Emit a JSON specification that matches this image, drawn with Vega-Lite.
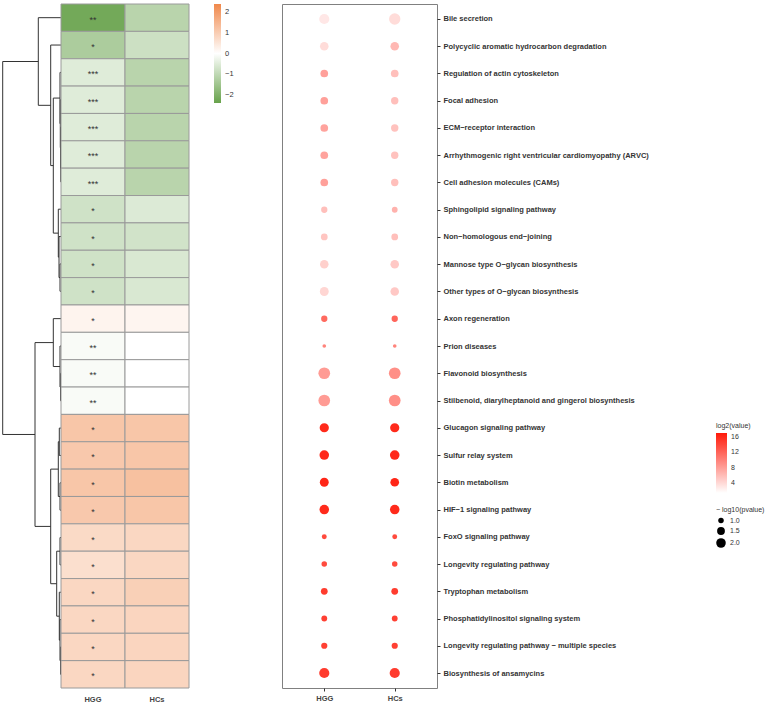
{
  "$schema": "https://vega.github.io/schema/vega-lite/v6.json",
  "padding": {"left": 0, "top": 3, "right": 0, "bottom": 0},
  "background": "white",
  "config": {"view": {"stroke": null}, "font": "Liberation Sans"},
  "bounds": "flush",
  "spacing": 0,
  "resolve": {"scale": {"color": "independent", "size": "independent", "x": "independent", "y": "independent"}, "legend": {"color": "independent", "size": "independent"}},
  "datasets": {
    "dendro": [
      {"h1": 58.3, "h2": 58.3, "r1": 2.602, "r2": 16.234},
      {"h1": 58.3, "h2": 22.7, "r1": 2.602, "r2": 2.602},
      {"h1": 58.3, "h2": 26, "r1": 16.234, "r2": 16.234},
      {"h1": 22.7, "h2": 22.7, "r1": 1, "r2": 4.203},
      {"h1": 22.7, "h2": 0, "r1": 1, "r2": 1},
      {"h1": 22.7, "h2": 10.3, "r1": 4.203, "r2": 4.203},
      {"h1": 10.3, "h2": 10.3, "r1": 2, "r2": 6.406},
      {"h1": 10.3, "h2": 0, "r1": 2, "r2": 2},
      {"h1": 10.3, "h2": 7.7, "r1": 6.406, "r2": 6.406},
      {"h1": 7.7, "h2": 7.7, "r1": 3.938, "r2": 8.875},
      {"h1": 7.7, "h2": 1.0, "r1": 3.938, "r2": 3.938},
      {"h1": 7.7, "h2": 2.7, "r1": 8.875, "r2": 8.875},
      {"h1": 1, "h2": 1, "r1": 3, "r2": 4.875},
      {"h1": 1, "h2": 0, "r1": 3, "r2": 3},
      {"h1": 1, "h2": 0.7, "r1": 4.875, "r2": 4.875},
      {"h1": 0.7, "h2": 0.7, "r1": 4, "r2": 5.75},
      {"h1": 0.7, "h2": 0, "r1": 4, "r2": 4},
      {"h1": 0.7, "h2": 0.5, "r1": 5.75, "r2": 5.75},
      {"h1": 0.5, "h2": 0.5, "r1": 5, "r2": 6.5},
      {"h1": 0.5, "h2": 0, "r1": 5, "r2": 5},
      {"h1": 0.5, "h2": 0.3, "r1": 6.5, "r2": 6.5},
      {"h1": 0.3, "h2": 0.3, "r1": 6, "r2": 7},
      {"h1": 0.3, "h2": 0, "r1": 6, "r2": 6},
      {"h1": 0.3, "h2": 0, "r1": 7, "r2": 7},
      {"h1": 2.7, "h2": 2.7, "r1": 8, "r2": 9.75},
      {"h1": 2.7, "h2": 0, "r1": 8, "r2": 8},
      {"h1": 2.7, "h2": 2, "r1": 9.75, "r2": 9.75},
      {"h1": 2, "h2": 2, "r1": 9, "r2": 10.5},
      {"h1": 2, "h2": 0, "r1": 9, "r2": 9},
      {"h1": 2, "h2": 1, "r1": 10.5, "r2": 10.5},
      {"h1": 1, "h2": 1, "r1": 10, "r2": 11},
      {"h1": 1, "h2": 0, "r1": 10, "r2": 10},
      {"h1": 1, "h2": 0, "r1": 11, "r2": 11},
      {"h1": 26, "h2": 26, "r1": 12.875, "r2": 19.594},
      {"h1": 26, "h2": 7.7, "r1": 12.875, "r2": 12.875},
      {"h1": 26, "h2": 10.3, "r1": 19.594, "r2": 19.594},
      {"h1": 7.7, "h2": 7.7, "r1": 12, "r2": 13.75},
      {"h1": 7.7, "h2": 0, "r1": 12, "r2": 12},
      {"h1": 7.7, "h2": 1, "r1": 13.75, "r2": 13.75},
      {"h1": 1, "h2": 1, "r1": 13, "r2": 14.5},
      {"h1": 1, "h2": 0, "r1": 13, "r2": 13},
      {"h1": 1, "h2": 0.5, "r1": 14.5, "r2": 14.5},
      {"h1": 0.5, "h2": 0.5, "r1": 14, "r2": 15},
      {"h1": 0.5, "h2": 0, "r1": 14, "r2": 14},
      {"h1": 0.5, "h2": 0, "r1": 15, "r2": 15},
      {"h1": 10.3, "h2": 10.3, "r1": 17.5, "r2": 21.688},
      {"h1": 10.3, "h2": 2.7, "r1": 17.5, "r2": 17.5},
      {"h1": 10.3, "h2": 4.3, "r1": 21.688, "r2": 21.688},
      {"h1": 2.7, "h2": 2.7, "r1": 16.5, "r2": 18.5},
      {"h1": 2.7, "h2": 1.7, "r1": 16.5, "r2": 16.5},
      {"h1": 2.7, "h2": 1, "r1": 18.5, "r2": 18.5},
      {"h1": 1.7, "h2": 1.7, "r1": 16, "r2": 17},
      {"h1": 1.7, "h2": 0, "r1": 16, "r2": 16},
      {"h1": 1.7, "h2": 0, "r1": 17, "r2": 17},
      {"h1": 1, "h2": 1, "r1": 18, "r2": 19},
      {"h1": 1, "h2": 0, "r1": 18, "r2": 18},
      {"h1": 1, "h2": 0, "r1": 19, "r2": 19},
      {"h1": 4.3, "h2": 4.3, "r1": 20.5, "r2": 22.875},
      {"h1": 4.3, "h2": 1, "r1": 20.5, "r2": 20.5},
      {"h1": 4.3, "h2": 1.7, "r1": 22.875, "r2": 22.875},
      {"h1": 1, "h2": 1, "r1": 20, "r2": 21},
      {"h1": 1, "h2": 0, "r1": 20, "r2": 20},
      {"h1": 1, "h2": 0, "r1": 21, "r2": 21},
      {"h1": 1.7, "h2": 1.7, "r1": 22, "r2": 23.75},
      {"h1": 1.7, "h2": 0, "r1": 22, "r2": 22},
      {"h1": 1.7, "h2": 1, "r1": 23.75, "r2": 23.75},
      {"h1": 1, "h2": 1, "r1": 23, "r2": 24.5},
      {"h1": 1, "h2": 0, "r1": 23, "r2": 23},
      {"h1": 1, "h2": 0.5, "r1": 24.5, "r2": 24.5},
      {"h1": 0.5, "h2": 0.5, "r1": 24, "r2": 25},
      {"h1": 0.5, "h2": 0, "r1": 24, "r2": 24},
      {"h1": 0.5, "h2": 0, "r1": 25, "r2": 25}
    ],
    "heat": [
      {"row": 1, "group": "HGG", "value": -2.2, "sig": "**"}, {"row": 1, "group": "HCs", "value": -1.1, "sig": ""},
      {"row": 2, "group": "HGG", "value": -1.3, "sig": "*"}, {"row": 2, "group": "HCs", "value": -0.8, "sig": ""},
      {"row": 3, "group": "HGG", "value": -0.5, "sig": "***"}, {"row": 3, "group": "HCs", "value": -1.1, "sig": ""},
      {"row": 4, "group": "HGG", "value": -0.5, "sig": "***"}, {"row": 4, "group": "HCs", "value": -1.1, "sig": ""},
      {"row": 5, "group": "HGG", "value": -0.5, "sig": "***"}, {"row": 5, "group": "HCs", "value": -1.1, "sig": ""},
      {"row": 6, "group": "HGG", "value": -0.5, "sig": "***"}, {"row": 6, "group": "HCs", "value": -1.1, "sig": ""},
      {"row": 7, "group": "HGG", "value": -0.5, "sig": "***"}, {"row": 7, "group": "HCs", "value": -1.1, "sig": ""},
      {"row": 8, "group": "HGG", "value": -0.75, "sig": "*"}, {"row": 8, "group": "HCs", "value": -0.55, "sig": ""},
      {"row": 9, "group": "HGG", "value": -0.75, "sig": "*"}, {"row": 9, "group": "HCs", "value": -0.72, "sig": ""},
      {"row": 10, "group": "HGG", "value": -0.75, "sig": "*"}, {"row": 10, "group": "HCs", "value": -0.6, "sig": ""},
      {"row": 11, "group": "HGG", "value": -0.75, "sig": "*"}, {"row": 11, "group": "HCs", "value": -0.6, "sig": ""},
      {"row": 12, "group": "HGG", "value": 0.22, "sig": "*"}, {"row": 12, "group": "HCs", "value": 0.2, "sig": ""},
      {"row": 13, "group": "HGG", "value": -0.1, "sig": "**"}, {"row": 13, "group": "HCs", "value": 0.0, "sig": ""},
      {"row": 14, "group": "HGG", "value": -0.1, "sig": "**"}, {"row": 14, "group": "HCs", "value": 0.0, "sig": ""},
      {"row": 15, "group": "HGG", "value": -0.1, "sig": "**"}, {"row": 15, "group": "HCs", "value": 0.0, "sig": ""},
      {"row": 16, "group": "HGG", "value": 1.15, "sig": "*"}, {"row": 16, "group": "HCs", "value": 1.15, "sig": ""},
      {"row": 17, "group": "HGG", "value": 1.1, "sig": "*"}, {"row": 17, "group": "HCs", "value": 1.15, "sig": ""},
      {"row": 18, "group": "HGG", "value": 1.15, "sig": "*"}, {"row": 18, "group": "HCs", "value": 1.25, "sig": ""},
      {"row": 19, "group": "HGG", "value": 1.1, "sig": "*"}, {"row": 19, "group": "HCs", "value": 1.15, "sig": ""},
      {"row": 20, "group": "HGG", "value": 0.75, "sig": "*"}, {"row": 20, "group": "HCs", "value": 0.8, "sig": ""},
      {"row": 21, "group": "HGG", "value": 0.65, "sig": "*"}, {"row": 21, "group": "HCs", "value": 0.8, "sig": ""},
      {"row": 22, "group": "HGG", "value": 0.8, "sig": "*"}, {"row": 22, "group": "HCs", "value": 0.95, "sig": ""},
      {"row": 23, "group": "HGG", "value": 0.8, "sig": "*"}, {"row": 23, "group": "HCs", "value": 0.85, "sig": ""},
      {"row": 24, "group": "HGG", "value": 0.8, "sig": "*"}, {"row": 24, "group": "HCs", "value": 0.85, "sig": ""},
      {"row": 25, "group": "HGG", "value": 0.8, "sig": "*"}, {"row": 25, "group": "HCs", "value": 0.85, "sig": ""}
    ],
    "dots": [
      {"pathway": "Bile secretion", "group": "HGG", "log2value": 3.1, "nlog10p": 2.2},
      {"pathway": "Bile secretion", "group": "HCs", "log2value": 3.9, "nlog10p": 2.62},
      {"pathway": "Polycyclic aromatic hydrocarbon degradation", "group": "HGG", "log2value": 3.9, "nlog10p": 1.71},
      {"pathway": "Polycyclic aromatic hydrocarbon degradation", "group": "HCs", "log2value": 6.3, "nlog10p": 1.71},
      {"pathway": "Regulation of actin cytoskeleton", "group": "HGG", "log2value": 7.9, "nlog10p": 1.47},
      {"pathway": "Regulation of actin cytoskeleton", "group": "HCs", "log2value": 5.8, "nlog10p": 1.47},
      {"pathway": "Focal adhesion", "group": "HGG", "log2value": 7.9, "nlog10p": 1.47},
      {"pathway": "Focal adhesion", "group": "HCs", "log2value": 5.8, "nlog10p": 1.4},
      {"pathway": "ECM−receptor interaction", "group": "HGG", "log2value": 7.7, "nlog10p": 1.47},
      {"pathway": "ECM−receptor interaction", "group": "HCs", "log2value": 5.6, "nlog10p": 1.4},
      {"pathway": "Arrhythmogenic right ventricular cardiomyopathy (ARVC)", "group": "HGG", "log2value": 7.7, "nlog10p": 1.47},
      {"pathway": "Arrhythmogenic right ventricular cardiomyopathy (ARVC)", "group": "HCs", "log2value": 5.6, "nlog10p": 1.4},
      {"pathway": "Cell adhesion molecules (CAMs)", "group": "HGG", "log2value": 7.9, "nlog10p": 1.47},
      {"pathway": "Cell adhesion molecules (CAMs)", "group": "HCs", "log2value": 5.8, "nlog10p": 1.4},
      {"pathway": "Sphingolipid signaling pathway", "group": "HGG", "log2value": 5.8, "nlog10p": 1.15},
      {"pathway": "Sphingolipid signaling pathway", "group": "HCs", "log2value": 6.7, "nlog10p": 1.05},
      {"pathway": "Non−homologous end−joining", "group": "HGG", "log2value": 5.4, "nlog10p": 1.25},
      {"pathway": "Non−homologous end−joining", "group": "HCs", "log2value": 5.8, "nlog10p": 1.25},
      {"pathway": "Mannose type O−glycan biosynthesis", "group": "HGG", "log2value": 4.7, "nlog10p": 1.7},
      {"pathway": "Mannose type O−glycan biosynthesis", "group": "HCs", "log2value": 5.2, "nlog10p": 1.7},
      {"pathway": "Other types of O−glycan biosynthesis", "group": "HGG", "log2value": 4.3, "nlog10p": 1.8},
      {"pathway": "Other types of O−glycan biosynthesis", "group": "HCs", "log2value": 5.2, "nlog10p": 1.7},
      {"pathway": "Axon regeneration", "group": "HGG", "log2value": 11.6, "nlog10p": 1.15},
      {"pathway": "Axon regeneration", "group": "HCs", "log2value": 11.9, "nlog10p": 1.15},
      {"pathway": "Prion diseases", "group": "HGG", "log2value": 9.8, "nlog10p": 0.72},
      {"pathway": "Prion diseases", "group": "HCs", "log2value": 9.8, "nlog10p": 0.72},
      {"pathway": "Flavonoid biosynthesis", "group": "HGG", "log2value": 8.3, "nlog10p": 2.75},
      {"pathway": "Flavonoid biosynthesis", "group": "HCs", "log2value": 9.1, "nlog10p": 2.75},
      {"pathway": "Stilbenoid, diarylheptanoid and gingerol biosynthesis", "group": "HGG", "log2value": 8.3, "nlog10p": 2.75},
      {"pathway": "Stilbenoid, diarylheptanoid and gingerol biosynthesis", "group": "HCs", "log2value": 9.1, "nlog10p": 2.75},
      {"pathway": "Glucagon signaling pathway", "group": "HGG", "log2value": 15.9, "nlog10p": 1.9},
      {"pathway": "Glucagon signaling pathway", "group": "HCs", "log2value": 15.9, "nlog10p": 1.9},
      {"pathway": "Sulfur relay system", "group": "HGG", "log2value": 16.0, "nlog10p": 2.0},
      {"pathway": "Sulfur relay system", "group": "HCs", "log2value": 16.0, "nlog10p": 2.0},
      {"pathway": "Biotin metabolism", "group": "HGG", "log2value": 16.2, "nlog10p": 1.8},
      {"pathway": "Biotin metabolism", "group": "HCs", "log2value": 16.2, "nlog10p": 1.75},
      {"pathway": "HIF−1 signaling pathway", "group": "HGG", "log2value": 15.9, "nlog10p": 2.0},
      {"pathway": "HIF−1 signaling pathway", "group": "HCs", "log2value": 15.9, "nlog10p": 2.0},
      {"pathway": "FoxO signaling pathway", "group": "HGG", "log2value": 13.75, "nlog10p": 0.9},
      {"pathway": "FoxO signaling pathway", "group": "HCs", "log2value": 13.75, "nlog10p": 0.9},
      {"pathway": "Longevity regulating pathway", "group": "HGG", "log2value": 13.7, "nlog10p": 1.0},
      {"pathway": "Longevity regulating pathway", "group": "HCs", "log2value": 13.7, "nlog10p": 1.0},
      {"pathway": "Tryptophan metabolism", "group": "HGG", "log2value": 14.7, "nlog10p": 1.25},
      {"pathway": "Tryptophan metabolism", "group": "HCs", "log2value": 14.7, "nlog10p": 1.25},
      {"pathway": "Phosphatidylinositol signaling system", "group": "HGG", "log2value": 14.4, "nlog10p": 1.06},
      {"pathway": "Phosphatidylinositol signaling system", "group": "HCs", "log2value": 14.4, "nlog10p": 1.06},
      {"pathway": "Longevity regulating pathway − multiple species", "group": "HGG", "log2value": 14.4, "nlog10p": 1.13},
      {"pathway": "Longevity regulating pathway − multiple species", "group": "HCs", "log2value": 14.4, "nlog10p": 1.13},
      {"pathway": "Biosynthesis of ansamycins", "group": "HGG", "log2value": 14.8, "nlog10p": 2.2},
      {"pathway": "Biosynthesis of ansamycins", "group": "HCs", "log2value": 14.8, "nlog10p": 2.2}
    ]
  },
  "hconcat": [
    {
      "width": 61,
      "height": 684,
      "data": {"name": "dendro"},
      "mark": {"type": "rule", "color": "#333333", "strokeWidth": 1},
      "encoding": {
        "x": {"field": "h1", "type": "quantitative", "scale": {"domain": [0, 61], "reverse": true, "nice": false, "zero": false}, "axis": null},
        "x2": {"field": "h2"},
        "y": {"field": "r1", "type": "quantitative", "scale": {"domain": [0.5, 25.5], "reverse": true, "nice": false, "zero": false}, "axis": null},
        "y2": {"field": "r2"}
      }
    },
    {
      "width": 128,
      "height": 684,
      "data": {"name": "heat"},
      "encoding": {
        "x": {"field": "group", "type": "nominal", "sort": ["HGG", "HCs"], "scale": {"paddingInner": 0, "paddingOuter": 0},
              "axis": {"title": null, "orient": "bottom", "ticks": false, "domain": false, "labelAngle": 0, "labelFontSize": 7.5, "labelFontWeight": "bold", "labelColor": "#444444", "labelPadding": 7}},
        "y": {"field": "row", "type": "ordinal", "scale": {"paddingInner": 0, "paddingOuter": 0}, "axis": null}
      },
      "layer": [
        {
          "mark": {"type": "rect", "stroke": "#9a9a9a", "strokeWidth": 1},
          "encoding": {
            "color": {"field": "value", "type": "quantitative",
                      "scale": {"domain": [-2.39, 0, 2.39], "range": ["#67a24b", "#ffffff", "#f0884a"], "interpolate": "rgb"},
                      "legend": {"title": null, "orient": "none", "legendX": 153, "legendY": 0, "direction": "vertical", "gradientLength": 99, "gradientThickness": 7, "values": [-2, -1, 0, 1, 2], "format": "d", "labelFontSize": 7.5, "labelColor": "#333333", "labelOffset": 4, "gradientStrokeWidth": 0, "labelOverlap": false}}
          }
        },
        {
          "mark": {"type": "text", "fontSize": 9, "color": "#333333", "baseline": "middle", "dy": 2},
          "encoding": {"text": {"field": "sig", "type": "nominal"}}
        }
      ]
    },
    {
      "width": 93,
      "height": 684,
      "data": {"values": []},
      "mark": {"type": "point", "opacity": 0},
      "encoding": {}
    },
    {
      "width": 155,
      "height": 684,
      "view": {"stroke": "#808080", "strokeWidth": 1},
      "data": {"name": "dots"},
      "mark": {"type": "circle", "opacity": 1},
      "encoding": {
        "x": {"field": "group", "type": "nominal", "sort": ["HGG", "HCs"], "scale": {"type": "point", "padding": 0.6},
              "axis": {"title": null, "tickSize": 3, "tickColor": "#333333", "domain": false, "labelAngle": 0, "labelFontSize": 7.5, "labelFontWeight": "bold", "labelColor": "#444444", "labelPadding": 3}},
        "y": {"field": "pathway", "type": "nominal", "sort": null, "scale": {"type": "point", "padding": 0.55},
              "axis": {"orient": "right", "title": null, "tickSize": 3, "tickColor": "#333333", "domain": false, "labelFontSize": 7.5, "labelFontWeight": "bold", "labelColor": "#333333", "labelPadding": 3, "labelLimit": 400}},
        "color": {"field": "log2value", "type": "quantitative",
                  "scale": {"domain": [1.5, 17], "range": ["#ffffff", "#ff1a0a"], "interpolate": "rgb"},
                  "legend": {"title": "log2(value)", "orient": "none", "legendX": 434, "legendY": 418, "direction": "vertical", "gradientLength": 60, "gradientThickness": 11, "values": [4, 8, 12, 16], "titleFontSize": 7, "titleFontWeight": "normal", "titleColor": "#333333", "titlePadding": 4, "labelFontSize": 7, "labelColor": "#333333", "labelOffset": 4, "gradientStrokeWidth": 0}},
        "size": {"field": "nlog10p", "type": "quantitative",
                 "scale": {"domain": [0.5, 3], "range": [0, 152]},
                 "legend": {"title": "− log10(pvalue)", "orient": "none", "legendX": 434, "legendY": 502, "values": [1, 1.5, 2], "format": ".1f", "symbolType": "circle", "symbolFillColor": "black", "symbolStrokeColor": "black", "symbolStrokeWidth": 0, "symbolOpacity": 1, "titleFontSize": 7, "titleFontWeight": "normal", "titleColor": "#333333", "titlePadding": 4, "labelFontSize": 7, "labelColor": "#333333", "labelOffset": 4, "rowPadding": 3}}
      }
    }
  ]
}
